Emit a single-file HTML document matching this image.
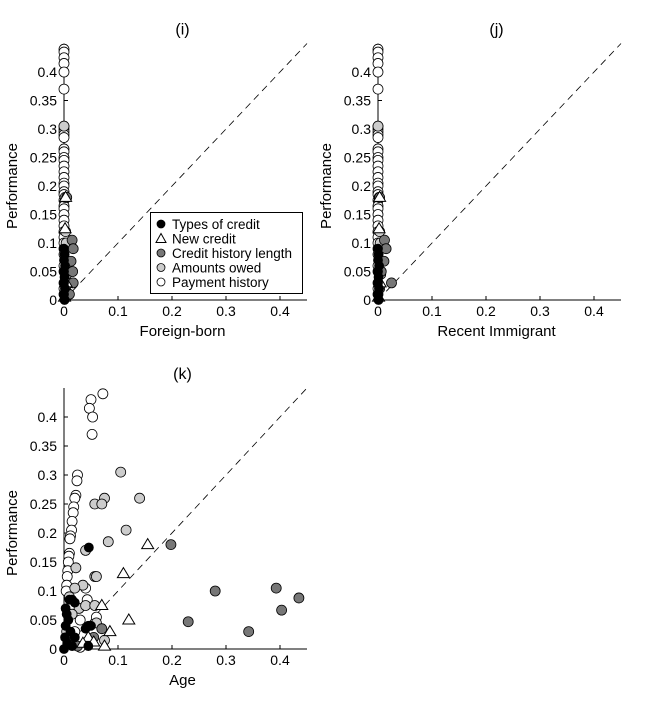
<!DOCTYPE html>
<html><head><meta charset="utf-8"><style>
body{margin:0;background:#fff;width:651px;height:700px;overflow:hidden}
svg{font-family:"Liberation Sans",sans-serif}
</style></head><body>
<svg id="fig" width="651" height="700"></svg>
<script>
const ticksX=[0,0.1,0.2,0.3,0.4];
const tickLabelsX=["0","0.1","0.2","0.3","0.4"];
const ticksY=[0,0.05,0.1,0.15,0.2,0.25,0.3,0.35,0.4];
const tickLabelsY=["0","0.05","0.1","0.15","0.2","0.25","0.3","0.35","0.4"];
// panel i
const iPayY=[0.44,0.435,0.425,0.415,0.40,0.37,0.305,0.30,0.295,0.29,0.285,0.265,0.26,0.25,0.245,0.235,0.225,0.215,0.205,0.2,0.19,0.185,0.175,0.165,0.16,0.15,0.14,0.13,0.12,0.11,0.1,0.09,0.08,0.06,0.05,0.03,0.02,0.01];
const iOwedX=[0,0.002,0.003,0.004,0.002,0.005,0.003];
const iOwedY=[0.305,0.18,0.12,0.1,0.07,0.045,0.02];
const iHistX=[0.015,0.017,0.013,0.016,0.017,0.01,0.005];
const iHistY=[0.105,0.09,0.068,0.05,0.03,0.01,0.18];
const iNewX=[0.003,0.002,0.004,0.001];
const iNewY=[0.18,0.125,0.03,0.005];
const iTypesX=[0,0.001,0,0.002,0,0.001,0,0.002,0,0.001];
const iTypesY=[0.09,0.08,0.07,0.06,0.05,0.04,0.03,0.02,0.01,0];
// panel j
const jHistX=[0.012,0.015,0.011,0.006,0.025,0.003];
const jHistY=[0.105,0.09,0.068,0.05,0.03,0.18];
// panel k
const kPayX=[0.072,0.05,0.047,0.053,0.052,0.025,0.024,0.022,0.02,0.018,0.017,0.015,0.014,0.012,0.011,0.01,0.009,0.008,0.007,0.006,0.005,0.004,0.04,0.043,0.06,0.03,0.03,0.01,0.02];
const kPayY=[0.44,0.43,0.415,0.40,0.37,0.30,0.29,0.265,0.26,0.245,0.235,0.22,0.205,0.195,0.19,0.165,0.16,0.15,0.135,0.125,0.11,0.1,0.105,0.085,0.055,0.05,0.003,0.07,0.03];
const kOwedX=[0.105,0.14,0.075,0.057,0.07,0.115,0.082,0.04,0.057,0.06,0.022,0.035,0.02,0.028,0.04,0.057,0.01,0.075,0.06,0.015,0.005];
const kOwedY=[0.305,0.26,0.26,0.25,0.25,0.205,0.185,0.17,0.125,0.125,0.14,0.11,0.105,0.07,0.075,0.075,0.09,0.015,0.045,0.06,0.03];
const kHistX=[0.198,0.28,0.393,0.435,0.403,0.23,0.342,0.07,0.055,0.025,0.01];
const kHistY=[0.18,0.10,0.105,0.088,0.067,0.047,0.03,0.035,0.02,0.005,0.01];
const kNewX=[0.155,0.11,0.12,0.07,0.085,0.075,0.045,0.035,0.055];
const kNewY=[0.18,0.13,0.05,0.075,0.03,0.005,0.02,0.01,0.012];
const kTypesX=[0.046,0.01,0.015,0.02,0.005,0.008,0.003,0.012,0.04,0.045,0.05,0.002,0.006,0.015,0.045,0,0.003,0.02];
const kTypesY=[0.175,0.085,0.085,0.08,0.06,0.05,0.04,0.03,0.035,0.04,0.04,0.02,0.01,0.005,0.005,0,0.07,0.02];

const NS="http://www.w3.org/2000/svg";
const svg=document.getElementById('fig');
function mk(tag,attrs,parent){const e=document.createElementNS(NS,tag);for(const k in attrs)e.setAttribute(k,attrs[k]);(parent||svg).appendChild(e);return e;}
function zeros(n){return new Array(n).fill(0);}

function panel(id,ox,oy,sy,title,xlabel,series){
  const g=mk('g',{});
  
  
  const X=v=>ox+v*540, Y=v=>oy-v*sy;
  const top=Y(0.45);
  const ax=mk('path',{d:`M${ox} ${top}V${oy}H${X(0.45)}`,stroke:'#000',fill:'none','stroke-width':1},g);
  
  
  ticksX.forEach((t,i)=>{
    mk('line',{x1:X(t),x2:X(t),y1:oy,y2:oy-4,stroke:'#000'},g);
    const tx=mk('text',{x:X(t),y:oy+16,'text-anchor':'middle','font-size':14},g);tx.textContent=tickLabelsX[i];
    
    
  });
  ticksY.forEach((t,i)=>{
    mk('line',{x1:ox,x2:ox+4,y1:Y(t),y2:Y(t),stroke:'#000'},g);
    const tx=mk('text',{x:ox-7,y:Y(t)+5,'text-anchor':'end','font-size':14},g);tx.textContent=tickLabelsY[i];
    
    
  });
  const dl=mk('line',{x1:X(0),y1:Y(0),x2:X(0.45),y2:Y(0.45),stroke:'#000','stroke-dasharray':'7,5','stroke-width':0.8},g);
  
  
  const tt=mk('text',{x:X(0.225)-3,y:top-9,'text-anchor':'middle','font-size':16},g);tt.textContent=title;
  
  
  const xl=mk('text',{x:X(0.225)-3,y:oy+36,'text-anchor':'middle','font-size':15},g);xl.textContent=xlabel;
  
  
  const yl=mk('text',{x:0,y:0,'text-anchor':'middle','font-size':15,transform:`translate(${ox-47},${Y(0.2)}) rotate(-90)`},g);yl.textContent='Performance';
  
  
  series.forEach(s=>{
    s.xs.forEach((xv,i)=>{
      const cx=X(xv),cy=Y(s.ys[i]);
      let m;
      if(s.tri){m=mk('path',{d:`M${cx} ${cy-6}L${cx+6} ${cy+4}L${cx-6} ${cy+4}Z`,fill:'#fff',stroke:'#000'},g);}
      else{m=mk('circle',{cx:cx,cy:cy,r:s.fill==='#000'?4.5:5,fill:s.fill,stroke:'#000','stroke-width':0.8},g);}
      
      
    });
  });
}
const ser=(name,xs,ys,fill,tri)=>({name,xs,ys,fill,tri});
panel('i',64,300,570,'(i)','Foreign-born',[
  ser('payment-history',zeros(iPayY.length),iPayY,'#fff'),
  ser('amounts-owed',iOwedX,iOwedY,'#ccc'),
  ser('credit-history-length',iHistX,iHistY,'#777'),
  ser('new-credit',iNewX,iNewY,'#fff',true),
  ser('types-of-credit',iTypesX,iTypesY,'#000')]);
panel('j',378,300,570,'(j)','Recent Immigrant',[
  ser('payment-history',zeros(iPayY.length),iPayY,'#fff'),
  ser('amounts-owed',iOwedX,iOwedY,'#ccc'),
  ser('credit-history-length',jHistX,jHistY,'#777'),
  ser('new-credit',iNewX,iNewY,'#fff',true),
  ser('types-of-credit',iTypesX,iTypesY,'#000')]);
panel('k',64,649,580,'(k)','Age',[
  ser('payment-history',kPayX,kPayY,'#fff'),
  ser('amounts-owed',kOwedX,kOwedY,'#ccc'),
  ser('credit-history-length',kHistX,kHistY,'#777'),
  ser('new-credit',kNewX,kNewY,'#fff',true),
  ser('types-of-credit',kTypesX,kTypesY,'#000')]);

// legend
const lg=mk('g',{});


mk('rect',{x:150.5,y:212.5,width:152,height:81,fill:'#fff',stroke:'#000'},lg);
const legendLabels=['Types of credit','New credit','Credit history length','Amounts owed','Payment history'];
const legendFills=['#000','tri','#777','#ccc','#fff'];
legendLabels.forEach((l,i)=>{
  const y=224+i*14.5;
  let m;
  if(legendFills[i]==='tri') m=mk('path',{d:`M161 ${y-5}L166 ${y+4}L156 ${y+4}Z`,fill:'#fff',stroke:'#000'},lg);
  else m=mk('circle',{cx:161,cy:y,r:4,fill:legendFills[i],stroke:'#000','stroke-width':0.8},lg);
  
  
  const t=mk('text',{x:172,y:y+5,'font-size':13.5},lg);t.textContent=l;
  
  
});
</script>
</body></html>
